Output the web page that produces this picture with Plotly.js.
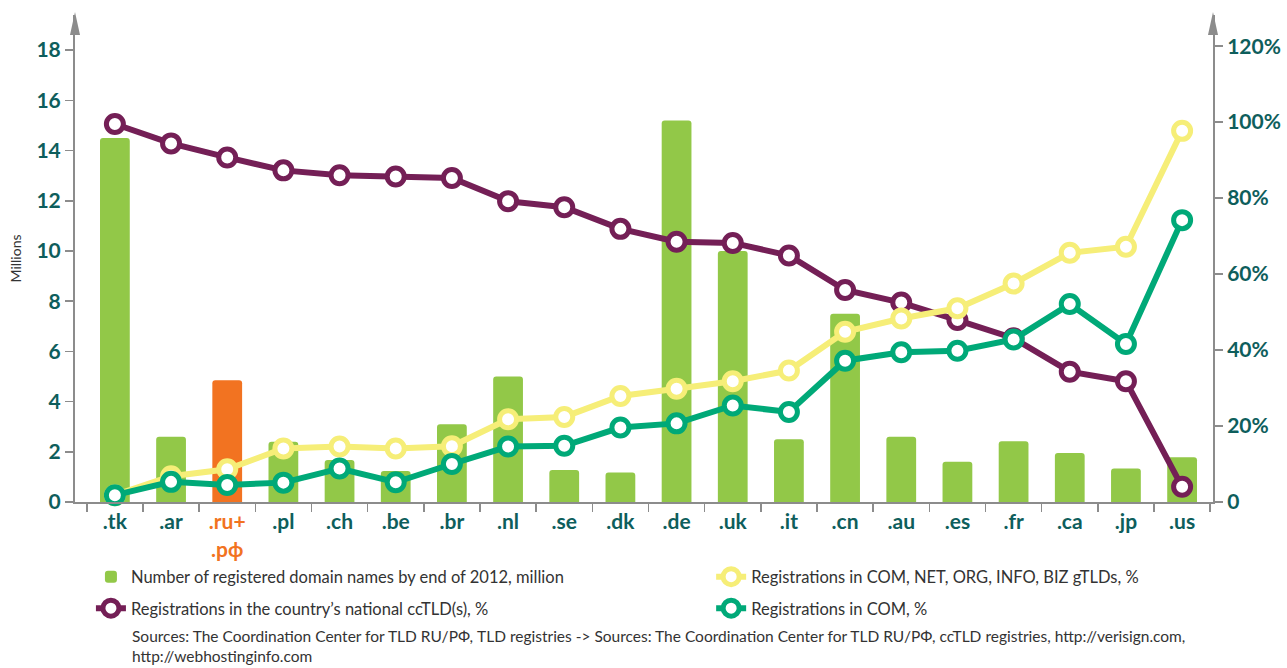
<!DOCTYPE html>
<html>
<head>
<meta charset="utf-8">
<script src="https://cdn.plot.ly/plotly-3.0.1.min.js"></script>
<style>html,body{margin:0;padding:0;background:#fff;}#chart{width:1287px;height:668px;}</style>
</head>
<body>
<div id="chart"></div>
<script>
// ---- data ----
const categories = ['.tk','.ar','.ru+.рф','.pl','.ch','.be','.br','.nl','.se','.dk','.de','.uk','.it','.cn','.au','.es','.fr','.ca','.jp','.us'];
const tickLabels = ['.tk','.ar','.ru+<br>.рф','.pl','.ch','.be','.br','.nl','.se','.dk','.de','.uk','.it','.cn','.au','.es','.fr','.ca','.jp','.us'];
const domainsMillion = [14.5,2.6,4.85,2.4,1.67,1.23,3.1,5.0,1.27,1.18,15.2,10.0,2.5,7.5,2.6,1.6,2.42,1.95,1.33,1.78];
const ccTLDShare = [99.5,94.4,90.7,87.3,86.0,85.7,85.3,79.2,77.6,71.9,68.5,68.2,64.9,55.8,52.5,47.9,43.1,34.3,31.8,4.0];
const gTLDShare = [1.8,6.8,8.6,14.1,14.6,14.1,14.7,21.8,22.4,27.9,29.8,31.8,34.6,44.8,48.3,51.0,57.5,65.6,67.2,97.7];
const comShare = [1.8,5.3,4.5,5.1,8.8,5.2,10.0,14.6,14.8,19.6,20.7,25.4,23.7,37.2,39.4,39.8,42.8,52.1,41.6,74.2];
const leftTicks = [0,2,4,6,8,10,12,14,16,18];
const rightTicks = [0,20,40,60,80,100,120];
const rightTickText = ['0','20%','40%','60%','80%','100%','120%'];
const highlightCategory = '.ru+.рф';

// ---- styles ----
const TEAL = '#0E5E5C', GRAY = '#8C8C8C', TXT = '#333333';
const BAR = '#92C848', ORANGE = '#F27321';
const PURPLE = '#741F56', YELLOW = '#F6EE78', GREEN = '#00A978';
const FONT = 'Lato, "Open Sans", sans-serif';

const tickText = tickLabels.map((t, i) => categories[i] === highlightCategory
  ? t.split('<br>').map(s => `<span style="color:${ORANGE}">${s}</span>`).join('<br>')
  : t);

function lineTrace(y, color, name, rank, legend) {
  return {
    type: 'scatter', mode: 'lines+markers', x: categories, y: y, yaxis: 'y2',
    name: name, legendrank: rank, legend: legend, legendgroup: name,
    line: {color: color, width: 6},
    marker: {size: 17, color: '#ffffff', line: {color: color, width: 5}},
    cliponaxis: false, hoverinfo: 'x+y'
  };
}

const traces = [
  {
    type: 'bar', x: categories, y: domainsMillion, name: 'Number of registered domain names by end of 2012, million',
    legendrank: 1, legend: 'legend', legendgroup: 'bars',
    marker: {color: categories.map(c => c === highlightCategory ? ORANGE : BAR), cornerradius: 3},
    width: 0.53, hoverinfo: 'x+y'
  },
  lineTrace(ccTLDShare, PURPLE, 'Registrations in the country’s national ccTLD(s), %', 2, 'legend'),
  lineTrace(gTLDShare, YELLOW, 'Registrations in COM, NET, ORG, INFO, BIZ gTLDs, %', 3, 'legend2'),
  lineTrace(comShare, GREEN, 'Registrations in COM, %', 4, 'legend2')
];

const plotW = 1287 - 75 - 74, plotH = 668 - 15 - 166;
const hw = 5 / plotW;
function arrow(x) {
  const base = (502 - 35) / plotH, tip = (502 - 12) / plotH;
  return {type: 'path', xref: 'paper', yref: 'paper',
    path: `M ${x - hw},${base} L ${x},${tip} L ${x + hw},${base} Z`,
    fillcolor: GRAY, line: {width: 0}};
}

const legendCommon = {
  orientation: 'v', traceorder: 'grouped', tracegroupgap: 7, bgcolor: 'rgba(0,0,0,0)',
  font: {family: FONT, size: 16.5, color: TXT}, yanchor: 'top', xanchor: 'left', itemclick: false
};

const layout = {
  width: 1287, height: 668,
  margin: {l: 75, r: 74, t: 15, b: 166},
  paper_bgcolor: '#ffffff', plot_bgcolor: '#ffffff',
  font: {family: FONT, color: TEAL},
  xaxis: {
    type: 'category', range: [-0.71, 19.55], tickson: 'boundaries',
    tickmode: 'array', tickvals: categories, ticktext: tickText,
    ticks: 'outside', ticklen: 8, tickcolor: GRAY, tickwidth: 1.5,
    showline: true, linecolor: GRAY, linewidth: 2, showgrid: false, zeroline: false,
    tickfont: {family: FONT, size: 21, color: TEAL, weight: 'bold'}
  },
  yaxis: {
    range: [0, 19.4], tickvals: leftTicks, ticks: 'outside', ticklen: 8, tickcolor: GRAY, tickwidth: 1.5,
    showline: true, linecolor: GRAY, linewidth: 2, showgrid: false, zeroline: false,
    tickfont: {family: FONT, size: 21, color: TEAL, weight: 'bold'},
    title: {text: 'Millions', font: {family: FONT, size: 14, color: TXT}, standoff: 12}
  },
  yaxis2: {
    overlaying: 'y', side: 'right', range: [0, 128.2],
    tickvals: rightTicks, ticktext: rightTickText, ticks: 'outside', ticklen: 8, tickcolor: GRAY, tickwidth: 1.5,
    showline: true, linecolor: GRAY, linewidth: 2, showgrid: false, zeroline: false,
    tickfont: {family: FONT, size: 21, color: TEAL, weight: 'bold'}
  },
  legend: Object.assign({}, legendCommon, {x: 0.014, y: -0.118}),
  legend2: Object.assign({}, legendCommon, {x: 0.559, y: -0.118}),
  shapes: [arrow(0), arrow(1)],
  annotations: [{
    xref: 'paper', yref: 'paper', x: (130 - 75) / plotW, y: (502 - 667) / plotH,
    xanchor: 'left', yanchor: 'bottom', align: 'left', showarrow: false,
    text: 'Sources: The Coordination Center for TLD RU/РФ, TLD registries -> Sources: The Coordination Center for TLD RU/РФ, ccTLD registries, http://verisign.com,<br>http://webhostinginfo.com',
    font: {family: FONT, size: 15.5, color: TXT}
  }],
  showlegend: true
};

Plotly.newPlot('chart', traces, layout, {displayModeBar: false, staticPlot: true});
</script>
</body>
</html>
